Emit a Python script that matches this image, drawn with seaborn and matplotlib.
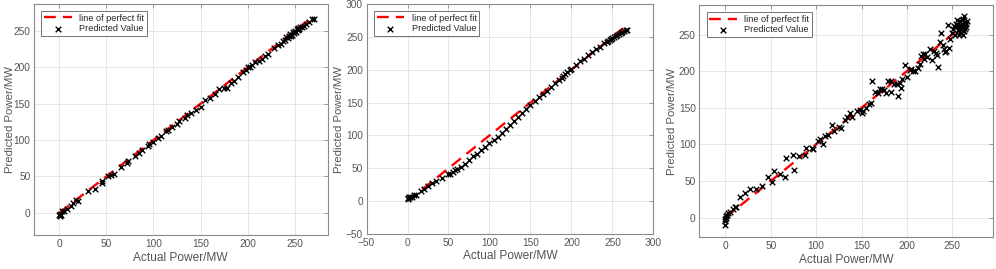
import numpy as np
import pandas as pd
import seaborn as sns
import matplotlib.pyplot as plt

# Panel 1 (actual vs predicted)
actual_1 = [0, 1, 1, 2, 3, 5, 8, 12, 15, 18, 20, 30, 38, 45, 45, 52, 55, 58, 65, 72,
            73, 80, 85, 88, 94, 95, 100, 105, 108, 113, 115, 120, 125, 127, 133, 136, 140, 145, 150, 155,
            160, 165, 170, 175, 178, 182, 185, 190, 195, 198, 200, 203, 205, 208, 212, 215, 218, 222, 228, 232,
            235, 238, 240, 241, 243, 244, 245, 246, 247, 248, 249, 250, 251, 252, 253, 254, 255, 256, 258, 260,
            262, 265, 268, 270]
pred_1 = [-3, -4, -2, -3, 2, 3, 5, 10, 14, 17, 16, 30, 33, 41, 44, 51, 52, 54, 63, 68,
          71, 78, 82, 86, 92, 94, 98, 103, 106, 112, 114, 118, 122, 126, 131, 134, 137, 142, 146, 155,
          158, 163, 170, 172, 172, 178, 181, 187, 193, 197, 200, 200, 203, 207, 209, 212, 216, 219, 226, 231,
          232, 236, 238, 241, 240, 243, 246, 243, 245, 248, 247, 250, 249, 252, 251, 254, 253, 256, 255, 257,
          260, 262, 266, 267]

# Panel 2
actual_2 = [0, 1, 2, 3, 5, 8, 10, 17, 20, 25, 30, 35, 42, 50, 52, 55, 58, 60, 65, 70,
            75, 80, 85, 90, 95, 100, 105, 110, 115, 120, 125, 130, 135, 140, 145, 150, 155, 160, 165, 170,
            175, 180, 185, 188, 190, 192, 195, 198, 200, 205, 210, 215, 220, 225, 230, 235, 240, 243, 245, 247,
            248, 250, 252, 254, 256, 258, 260, 262, 264, 266, 268]
pred_2 = [5, 4, 6, 6, 7, 9, 10, 16, 19, 23, 27, 30, 35, 41, 42, 44, 47, 49, 52, 57,
          63, 68, 72, 78, 83, 88, 93, 98, 104, 110, 116, 122, 128, 134, 140, 146, 152, 158, 163, 168,
          174, 180, 185, 188, 191, 193, 196, 199, 201, 207, 213, 217, 222, 227, 231, 235, 240, 242, 244, 245,
          247, 248, 250, 251, 253, 254, 256, 257, 259, 260, 261]

# Panel 3
actual_3 = [0, 0, 0, 1, 1, 2, 3, 5, 8, 10, 12, 16, 22, 27, 34, 40, 47, 51, 54, 60,
            66, 67, 74, 75, 81, 88, 89, 95, 96, 102, 104, 107, 110, 113, 118, 120, 125, 127, 132, 134,
            137, 140, 145, 148, 150, 152, 155, 158, 160, 162, 165, 168, 170, 173, 175, 177, 179, 182, 183, 186,
            189, 190, 192, 194, 195, 198, 200, 203, 205, 207, 209, 212, 215, 216, 218, 219, 220, 222, 225, 228,
            230, 232, 233, 234, 236, 238, 240, 241, 242, 243, 245, 247, 248, 250, 251, 252, 253, 254, 255, 256,
            257, 258, 259, 260, 261, 262, 263, 264, 265, 266, 260, 258, 262, 263, 255, 257, 264, 261, 259, 265]
pred_3 = [-10, -5, -2, 0, 2, 4, 6, 8, 12, 14, 15, 28, 34, 39, 39, 43, 55, 48, 63, 60,
          55, 81, 85, 65, 84, 86, 95, 95, 93, 104, 108, 101, 112, 113, 126, 118, 124, 122, 133, 137,
          143, 137, 145, 147, 143, 146, 150, 155, 157, 187, 172, 170, 175, 176, 174, 170, 187, 187, 171, 183,
          182, 166, 184, 177, 190, 208, 192, 201, 203, 200, 200, 204, 210, 221, 224, 217, 224, 220, 230, 215,
          228, 225, 222, 206, 240, 252, 236, 230, 226, 228, 263, 232, 244, 252, 258, 262, 250, 265, 270, 256,
          262, 250, 268, 258, 264, 272, 255, 266, 260, 268, 262, 262, 250, 276, 262, 256, 258, 270, 252, 264]

panels = [(actual_1, pred_1), (actual_2, pred_2), (actual_3, pred_3)]
xlims = [(-27, 285), (-50, 300), (-29, 295)]
ylims = [(-31, 287), (-50, 300), (-27, 290)]
xticks = [[0, 50, 100, 150, 200, 250], list(range(-50, 301, 50)), [0, 50, 100, 150, 200, 250]]
yticks = [[0, 50, 100, 150, 200, 250], list(range(-50, 301, 50)), [0, 50, 100, 150, 200, 250]]
positions = [[0.034, 0.125, 0.295, 0.860],
             [0.368, 0.130, 0.288, 0.855],
             [0.702, 0.118, 0.295, 0.862]]
ylabel_x = [-0.064, -0.078, -0.076]

sns.set_style('white')
plt.rcParams['font.family'] = ['Liberation Sans', 'DejaVu Sans']
txt = '#555555'

fig = plt.figure(figsize=(9.96, 2.69), dpi=100)
for i, (act, pred) in enumerate(panels):
    ax = fig.add_axes(positions[i])
    df = pd.DataFrame({'actual': act, 'pred': pred})
    fit = pd.DataFrame({'x': [min(act), max(act)], 'y': [min(act), max(act)]})
    sns.lineplot(data=fit, x='x', y='y', ax=ax, color='red', linestyle=(0, (5, 3)),
                 linewidth=1.7, label='line of perfect fit', zorder=2)
    sns.scatterplot(data=df, x='actual', y='pred', ax=ax, marker='x', color='black',
                    s=16, linewidth=1.0, label='Predicted Value', zorder=3)
    ax.set_xlim(xlims[i])
    ax.set_ylim(ylims[i])
    ax.set_xticks(xticks[i])
    ax.set_yticks(yticks[i])
    ax.grid(True, color='#e6e6e6', linewidth=0.7)
    ax.set_axisbelow(True)
    for sp in ax.spines.values():
        sp.set_color('#8a8a8a')
        sp.set_linewidth(0.8)
    ax.tick_params(direction='in', length=3, width=0.6, color='#8a8a8a',
                   labelsize=7.3, labelcolor=txt, top=True, right=True, pad=2.5)
    ax.set_xlabel('Actual Power/MW', fontsize=8.6, color=txt, labelpad=2)
    ax.set_ylabel('Predicted Power/MW', fontsize=8.2, color=txt)
    ax.yaxis.set_label_coords(ylabel_x[i], 0.5)
    leg = ax.legend(loc='upper left', fontsize=6.6, frameon=True, fancybox=False,
                    borderpad=0.3, handlelength=3.0, labelspacing=0.15,
                    bbox_to_anchor=(0.01, 0.99))
    leg.get_frame().set_edgecolor('#333333')
    leg.get_frame().set_linewidth(0.6)

fig.savefig('out.png', dpi=100)
